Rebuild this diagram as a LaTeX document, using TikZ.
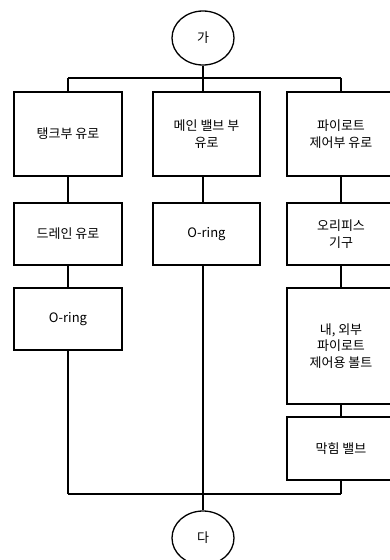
\documentclass[tikz,border=0pt]{standalone}
\usepackage{fontspec}
\setmainfont{Noto Sans CJK KR}
\usetikzlibrary{shapes.geometric}
\begin{document}
\begin{tikzpicture}[x=1pt,y=-1pt, line width=1.3pt,
  txt/.style={font=\fontsize{13}{16.5}\selectfont, align=center},
  box/.style={draw, txt, minimum width=108pt, inner sep=0pt},
  term/.style={draw, ellipse, txt, minimum width=62pt, minimum height=54pt, inner sep=0pt},
  link/.style={draw}]
\useasboundingbox (0,0) rectangle (390,560);
\clip (0,0) rectangle (390,560);
\node[term] (a) at (203,38) {가};
\node[term] (c) at (203,538) {다};
\node[box, minimum height=84pt] (b1) at (68,134) {탱크부 유로};
\node[box, minimum height=62pt] (b2) at (68,234) {드레인 유로};
\node[box, minimum height=62pt] (b3) at (68,319) {O-ring};
\node[box, minimum width=107pt, minimum height=84pt] (m1) at (206.5,134) {메인 밸브 부\\유로};
\node[box, minimum width=107pt, minimum height=62pt] (m2) at (206.5,234) {O-ring};
\node[box, minimum height=84pt] (r1) at (341,134) {파이로트\\제어부 유로};
\node[box, minimum height=62pt] (r2) at (341,234) {오리피스\\기구};
\node[box, minimum height=116pt] (r3) at (341,346) {내, 외부\\파이로트\\제어용 볼트};
\node[box, minimum height=63pt] (r4) at (341,448.5) {막힘 밸브};
\coordinate (tl) at (68,78);
\coordinate (tm) at (203,78);
\coordinate (tr) at (341,78);
\coordinate (bl) at (68,494);
\coordinate (bm) at (203,494);
\coordinate (br) at (341,494);
\draw (a) -- (tm);
\draw (tl) -- (tr);
\draw (tl) -- (b1);
\draw (tm) -- (tm |- m1.north);
\draw (tr) -- (r1);
\draw (b1) -- (b2);
\draw (b2) -- (b3);
\draw (b3) -- (bl);
\draw (tm |- m1.south) -- (tm |- m2.north);
\draw (tm |- m2.south) -- (bm);
\draw (r1) -- (r2);
\draw (r2) -- (r3);
\draw (r3) -- (r4);
\draw (r4) -- (br);
\draw (bl) -- (br);
\draw (bm) -- (c);
\end{tikzpicture}
\end{document}
